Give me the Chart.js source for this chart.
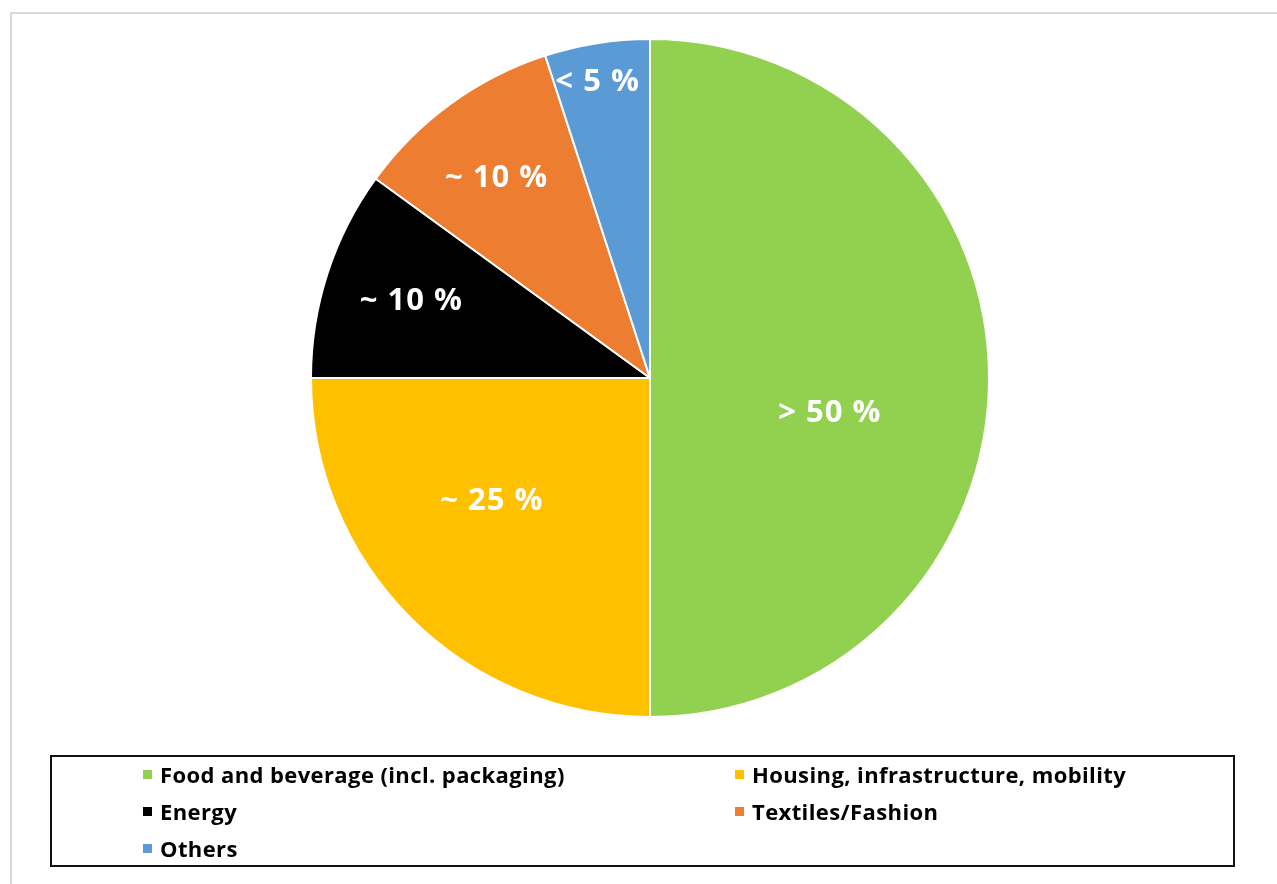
<!DOCTYPE html><html lang="en">
<head>
  <meta charset="UTF-8">
  <title>Sectors pie</title>
  <script src="https://cdn.jsdelivr.net/npm/chart.js"></script>
  <style>
    body { margin: 0; background: #fff; overflow: hidden; }
    #frame { position: absolute; left: 10px; top: 12px; width: 1290px; height: 900px; border-left: 2px solid #d9d9d9; border-top: 2px solid #d9d9d9; }
    #wrap { position: absolute; left: 0; top: 0; width: 1277px; height: 756px; }
    #legend { position: absolute; left: 50px; top: 755px; width: 1181px; height: 108px; border: 2px solid #111; box-sizing: content-box;
      font-family: "Open Sans", sans-serif; font-weight: bold; font-size: 22px; letter-spacing: 0.4px; color: #000; }
    .item { position: absolute; display: flex; align-items: center; white-space: nowrap; }
    .box { width: 9px; height: 9px; margin-right: 8px; }
  </style>
</head>
<body>
  <div id="frame"></div>
  <div id="wrap"><canvas id="pieChart"></canvas></div>
  <div id="legend"></div>

  <script>
    const categories = ["Food and beverage (incl. packaging)", "Housing, infrastructure, mobility", "Energy", "Textiles/Fashion", "Others"];
    const shares = [50, 25, 10, 10, 5];
    const shareLabels = ["> 50 %", "~ 25 %", "~ 10 %", "~ 10 %", "< 5 %"];
    const colors = ["#92D050", "#FFC000", "#000000", "#ED7D31", "#5B9BD5"];

    // where each label sits inside its slice: fraction of radius and angle nudge (deg)
    const labelPlace = [[0.54, 10.7], [0.59, 7.3], [0.74, 0], [0.745, -1.4], [0.89, -1]];

    const sliceLabels = {
      id: "sliceLabels",
      afterDatasetsDraw(chart) {
        const ctx = chart.ctx;
        const arcs = chart.getDatasetMeta(0).data;
        ctx.save();
        ctx.fillStyle = "#fff";
        ctx.font = "bold 31px 'Open Sans', sans-serif";
        ctx.letterSpacing = "1px";
        ctx.textAlign = "center";
        ctx.textBaseline = "middle";
        arcs.forEach((arc, i) => {
          const p = arc.getProps(["x", "y", "startAngle", "endAngle", "outerRadius"], true);
          const a = (p.startAngle + p.endAngle) / 2 + labelPlace[i][1] * Math.PI / 180;
          const r = p.outerRadius * labelPlace[i][0];
          ctx.fillText(shareLabels[i], p.x + Math.cos(a) * r, p.y + Math.sin(a) * r + 1);
        });
        ctx.restore();
      }
    };

    new Chart(document.getElementById("pieChart"), {
      type: "pie",
      data: {
        labels: categories,
        datasets: [{
          data: shares,
          backgroundColor: colors,
          borderColor: "#fff",
          borderWidth: 2
        }]
      },
      options: {
        responsive: true,
        maintainAspectRatio: false,
        animation: false,
        layout: { padding: { left: 23, right: 0, top: 38, bottom: 38 } },
        plugins: { legend: { display: false }, tooltip: { enabled: false } }
      },
      plugins: [sliceLabels]
    });

    // legend in two columns, like the original
    const legend = document.getElementById("legend");
    const spots = [[91, 17], [683, 17], [91, 54], [683, 54], [91, 91]];
    categories.forEach((name, i) => {
      const el = document.createElement("div");
      el.className = "item";
      el.style.left = spots[i][0] + "px";
      el.style.top = (spots[i][1] - 15) + "px";
      el.style.height = "30px";
      el.innerHTML = '<span class="box" style="background:' + colors[i] + '"></span>' + name;
      legend.appendChild(el);
    });
  </script>
</body>
</html>
